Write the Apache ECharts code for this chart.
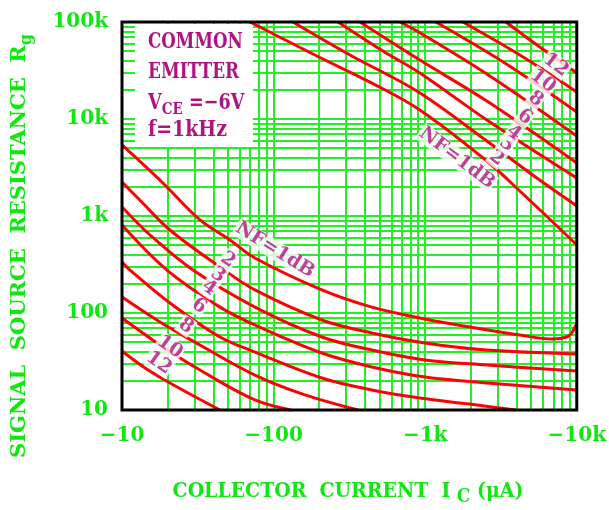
<!DOCTYPE html>
<html><head><meta charset="utf-8">
<script src="https://cdn.jsdelivr.net/npm/echarts@6/dist/echarts.min.js"></script>
<style>html,body{margin:0;padding:0;background:#fff}#c{width:609px;height:510px}</style>
</head><body><div id="c"></div>
<script>
// ---- tick labels ----
const xTickValues = [10, 100, 1000, 10000];
const xTickLabels = ['−10', '−100', '−1k', '−10k'];
const yTickValues = [10, 100, 1000, 10000, 100000];
const yTickLabels = ['10', '100', '1k', '10k', '100k'];

// ---- grid line positions (log grid) ----
const gridX = [20,30,40,50,60,70,80,90,100,200,300,400,500,600,700,800,900,1000,2000,3000,4000,5000,6000,7000,8000,9000];
const gridY = [20,30,40,50,60,70,80,90,100,200,300,400,500,600,700,800,900,1000,2000,3000,4000,5000,6000,7000,8000,9000,10000,20000,30000,40000,50000,60000,70000,80000,90000];

// ---- NF contours, upper branches [Ic(µA, magnitude), Rg(ohm)] ----
const nf1Up  = [[70,100000],[193,44600],[432,24000],[922,12400],[2551,3690],[4210,1810],[10000,503]];
const nf2Up  = [[134,100000],[319,45700],[881,19400],[2551,5930],[5449,2460],[10000,1270]];
const nf3Up  = [[266,100000],[526,50200],[922,29800],[2551,9770],[10000,2460]];
const nf4Up  = [[371,100000],[922,40500],[2551,15300],[10000,3520]];
const nf6Up  = [[681,100000],[881,80800],[2551,29100],[10000,6680]];
const nf8Up  = [[1175,100000],[3350,37800],[10000,11800]];
const nf10Up = [[1770,100000],[4210,45700],[10000,19000]];
const nf12Up = [[3404,100000],[5700,55200],[10000,29800]];

// ---- NF contours, lower branches ----
const nf1Lo  = [[10,5400],[18.6,2190],[32.7,910],[51.5,566],[75.3,369],[208,173],[445,115],[995,86.8],[1968,71.8],[4210,59.3],[6950,54.0],[8595,56.6],[9270,62.2],[10000,78.9]];
const nf2Lo  = [[10,2240],[13.1,1460],[20.7,717],[44.3,298],[75.3,173],[208,84.7],[445,62.2],[995,49.1],[2551,41.5],[10000,37.8]];
const nf3Lo  = [[10,1240],[15.3,637],[29.4,277],[75.3,115],[208,56.6],[445,41.5],[995,32.8],[2551,29.1],[10000,25.2]];
const nf4Lo  = [[10,807],[19.8,277],[44.3,115],[75.3,75.2],[208,38.7],[445,27.8],[995,21.9],[2551,19.0],[10000,16.1]];
const nf6Lo  = [[10,336],[11.3,277],[20.7,127],[44.3,56.6],[75.3,39.6],[208,21.4],[445,16.1],[922,13.3],[1968,11.5],[3960,10]];
const nf8Lo  = [[10,146],[17.8,80.8],[32.7,46.8],[75.3,22.9],[161,14.3],[360,10]];
const nf10Lo = [[10,88.7],[17.8,46.8],[32.7,25.8],[75.3,12.7],[130,10]];
const nf12Lo = [[10,40.6],[14.2,27.1],[20.7,19.0],[44.3,10]];

// ---- curve labels [text, Ic, Rg, rotation] ----
const curveLabels = [
  ['NF=1dB', 1618, 3963, -37], ['2', 2965, 3963, -37], ['3', 3451, 5521, -37], ['4', 3843, 7174, -37],
  ['6', 4544, 10500, -37], ['8', 5370, 16100, -37], ['10', 5975, 24600, -37], ['12', 7268, 36100, -37],
  ['NF=1dB', 102, 446, -32], ['2', 50.0, 352, -35], ['3', 43.0, 247, -35], ['4', 37.5, 181, -35],
  ['6', 32.2, 118, -35], ['8', 26.4, 73.5, -35], ['10', 20.7, 44.6, -35], ['12', 17.5, 30.5, -35]
];

const GREEN = '#22f022', TXT = '#0ee80e', RED = '#ff0000', MAG = '#b01282';
const FONT = 'DejaVu Serif';

function pick(vals, labels, v) {
  const i = vals.findIndex(t => Math.abs(Math.log10(t) - Math.log10(v)) < 0.01);
  return i >= 0 ? labels[i] : '';
}

const curves = [nf1Up,nf2Up,nf3Up,nf4Up,nf6Up,nf8Up,nf10Up,nf12Up,nf1Lo,nf2Lo,nf3Lo,nf4Lo,nf6Lo,nf8Lo,nf10Lo,nf12Lo];

const series = [{
  type: 'line', data: [], z: 1, silent: true,
  markLine: {
    z: 1, silent: true, symbol: ['none', 'none'], animation: false,
    label: { show: false },
    lineStyle: { color: GREEN, width: 2, type: 'solid', opacity: 1 },
    emphasis: { disabled: true },
    data: gridX.map(v => ({ xAxis: v })).concat(gridY.map(v => ({ yAxis: v })))
  }
}];
curves.forEach(c => series.push({
  type: 'line', data: c, smooth: 0.35, symbol: 'none', z: 3, silent: true,
  lineStyle: { color: RED, width: 3 }, animation: false
}));
series.push({
  type: 'scatter', z: 6, silent: true, symbolSize: 1, animation: false,
  itemStyle: { color: 'rgba(0,0,0,0)' },
  data: curveLabels.map(l => ({
    name: l[0], value: [l[1], l[2]],
    label: { rotate: l[3] }
  })),
  label: {
    show: true, position: 'inside', formatter: '{b}',
    color: MAG, fontFamily: FONT, fontWeight: 'bold', fontSize: 19,
    backgroundColor: '#fff', padding: [0, 1, 0, 1]
  }
});

const chart = echarts.init(document.getElementById('c'), null, { renderer: 'canvas' });
chart.setOption({
  animation: false,
  backgroundColor: '#fff',
  grid: { left: 122, top: 22, width: 455, height: 388, show: true, borderColor: '#000', borderWidth: 3, z: 10, backgroundColor: 'transparent' },
  xAxis: {
    type: 'log', logBase: 10, min: 10, max: 10000,
    axisLine: { show: false }, axisTick: { show: false }, splitLine: { show: false },
    axisLabel: { margin: 16, color: TXT, fontFamily: FONT, fontWeight: 'bold', fontSize: 20,
      formatter: v => pick(xTickValues, xTickLabels, v) }
  },
  yAxis: {
    type: 'log', logBase: 10, min: 10, max: 100000,
    axisLine: { show: false }, axisTick: { show: false }, splitLine: { show: false },
    axisLabel: { margin: 14, color: TXT, fontFamily: FONT, fontWeight: 'bold', fontSize: 20,
      formatter: v => pick(yTickValues, yTickLabels, v) }
  },
  graphic: [
    { type: 'rect', z: 2, silent: true, shape: { x: 135, y: 24, width: 118, height: 123 }, style: { fill: '#fff' } },
    { type: 'text', z: 4, x: 148, y: 42, scaleX: 0.76, style: { text: 'COMMON', fill: MAG, font: 'bold 22px "DejaVu Serif"', textAlign: 'left', textVerticalAlign: 'middle' } },
    { type: 'text', z: 4, x: 148, y: 72, scaleX: 0.77, style: { text: 'EMITTER', fill: MAG, font: 'bold 22px "DejaVu Serif"', textAlign: 'left', textVerticalAlign: 'middle' } },
    { type: 'text', z: 4, x: 148, y: 103, scaleX: 0.8, style: {
        text: '{n|V}{s|CE}{n| =−6V}', textAlign: 'left', textVerticalAlign: 'middle',
        rich: { n: { fill: MAG, font: 'bold 22px "DejaVu Serif"', lineHeight: 30, verticalAlign: 'middle' },
                s: { fill: MAG, font: 'bold 17px "DejaVu Serif"', lineHeight: 17, verticalAlign: 'bottom' } } } },
    { type: 'text', z: 4, x: 148, y: 130, scaleX: 0.86, style: { text: 'f=1kHz', fill: MAG, font: 'bold 22px "DejaVu Serif"', textAlign: 'left', textVerticalAlign: 'middle' } },
    { type: 'text', z: 4, x: 20, y: 246, rotation: Math.PI / 2, style: {
        text: '{n|SIGNAL  SOURCE  RESISTANCE  R}{s|g}', textAlign: 'center', textVerticalAlign: 'middle',
        rich: { n: { fill: TXT, font: 'bold 21px "DejaVu Serif"', lineHeight: 30, verticalAlign: 'middle' },
                s: { fill: TXT, font: 'bold 16px "DejaVu Serif"', lineHeight: 16, verticalAlign: 'bottom' } } } },
    { type: 'text', z: 4, x: 348, y: 492, scaleX: 0.9, style: {
        text: '{n|COLLECTOR  CURRENT  I }{s|C}{n| (μA)}', textAlign: 'center', textVerticalAlign: 'middle',
        rich: { n: { fill: TXT, font: 'bold 21px "DejaVu Serif"', lineHeight: 30, verticalAlign: 'middle' },
                s: { fill: TXT, font: 'bold 19px "DejaVu Serif"', lineHeight: 19, verticalAlign: 'bottom' } } } }
  ],
  series: series
});
</script></body></html>
